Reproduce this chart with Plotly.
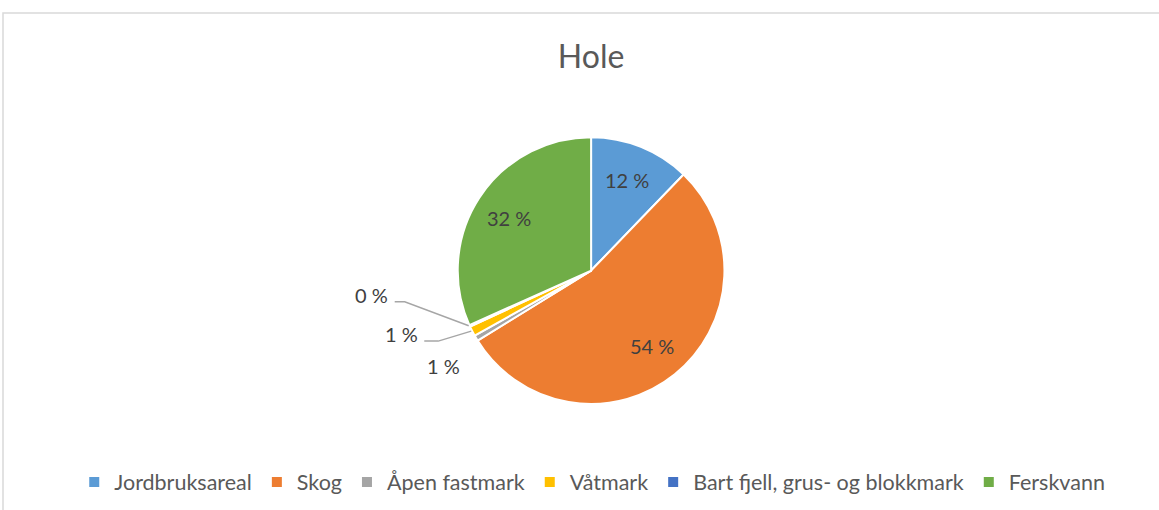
import math
import plotly.graph_objects as go

categories = ["Jordbruksareal", "Skog", "Åpen fastmark", "Våtmark",
              "Bart fjell, grus- og blokkmark", "Ferskvann"]
shares = [12.2, 54.0, 0.7, 1.2, 0.2, 31.7]
colors = ["#5B9BD5", "#ED7D31", "#A5A5A5", "#FFC000", "#4472C4", "#70AD47"]

W, H = 1159, 510
dom_x = [0.3, 0.72]
dom_y = [0.208, 0.731]

total = sum(shares)
labels_txt = [f"{round(v / total * 100)} %" for v in shares]

fig = go.Figure(go.Pie(
    labels=categories,
    values=shares,
    textinfo="none",
    sort=False,
    direction="clockwise",
    rotation=0,
    marker=dict(colors=colors, line=dict(color="white", width=2)),
    domain=dict(x=dom_x, y=dom_y),
    hoverinfo="label+percent",
))

# pie geometry in pixels (margins are zero, so paper == figure)
cx = (dom_x[0] + dom_x[1]) / 2 * W
cy = (1 - (dom_y[0] + dom_y[1]) / 2) * H
r = min((dom_x[1] - dom_x[0]) * W, (dom_y[1] - dom_y[0]) * H) / 2


def px_at(frac, rad):
    a = 2 * math.pi * frac
    return cx + rad * math.sin(a), cy - rad * math.cos(a)


def paper(px, py):
    return px / W, 1 - py / H


label_font = dict(family="Lato", size=20, color="#404040")
# small slices: text offset from slice edge (px), and leader elbow length
outside = {2: dict(dx=-33, dy=28, elbow=None),
           3: dict(dx=-71, dy=3, elbow=14),
           4: dict(dx=-98, dy=-31, elbow=10)}

annotations = []
shapes = [dict(type="rect", xref="paper", yref="paper",
               x0=3 / W, x1=1.05, y0=-0.05, y1=1 - 13 / H,
               line=dict(color="#D9D9D9", width=1.5), fillcolor="rgba(0,0,0,0)")]
cum = 0
for i, v in enumerate(shares):
    mid = (cum + v / 2) / total
    cum += v
    if i not in outside:
        x, y = paper(*px_at(mid, 0.73 * r))
    else:
        o = outside[i]
        tx, ty = px_at(mid, r)
        lx, ly = tx + o["dx"], ty + o["dy"]
        x, y = paper(lx, ly)
        if o["elbow"]:
            sx, sy = lx + 23, ly + 7
            ex = sx + o["elbow"]
            pts = [paper(sx, sy), paper(ex, sy), paper(tx - 1, ty)]
            path = "M {} {} L {} {} L {} {}".format(*[c for p in pts for c in p])
            shapes.append(dict(type="path", xref="paper", yref="paper", path=path,
                               line=dict(color="#A6A6A6", width=1.5)))
    annotations.append(dict(x=x, y=y, xref="paper", yref="paper", text=labels_txt[i],
                            xanchor="center", yanchor="middle",
                            showarrow=False, font=label_font))

fig.update_layout(
    width=W, height=H,
    margin=dict(l=0, r=0, t=0, b=0, autoexpand=False),
    paper_bgcolor="white",
    font=dict(family="Lato", color="#595959"),
    title=dict(text="Hole", x=0.51, xanchor="center", y=0.888, yanchor="middle",
               font=dict(family="Lato", size=32, color="#595959")),
    legend=dict(orientation="h", x=0.511, xanchor="center", y=0.055, yanchor="middle",
                font=dict(family="Lato", size=21.5, color="#595959"),
                itemwidth=30, traceorder="normal"),
    annotations=annotations,
    shapes=shapes,
)

fig.write_html("out.html", config=dict(displayModeBar=False),
               post_script="document.body.style.margin='0';")
